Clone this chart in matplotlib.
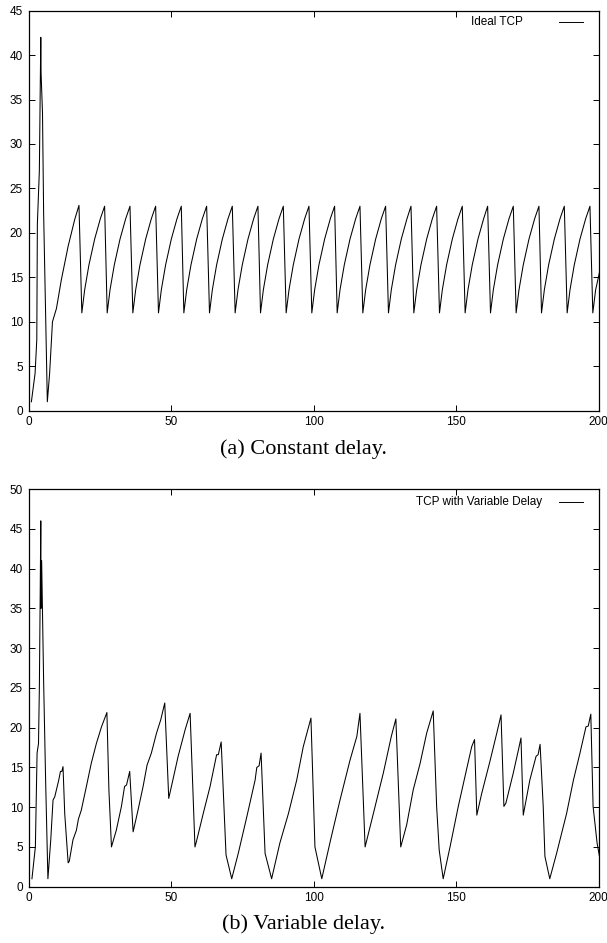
import matplotlib
matplotlib.use("Agg")
import matplotlib.pyplot as plt
from matplotlib.lines import Line2D

# (a) constant delay: cwnd vs time
ideal_t = [
    1.0, 2.3, 2.9, 3.1, 3.8, 4.3, 4.4, 4.9, 5.3, 5.9, 6.6, 7.4, 8.4, 9.8, 11.5, 13.9, 16.2, 17.7,
    18.7, 19.7, 21.2, 23.2, 25.2, 26.7,
    27.6, 28.6, 30.1, 32.1, 34.1, 35.6,
    36.6, 37.6, 39.1, 41.1, 43.1, 44.6,
    45.6, 46.6, 48.1, 50.1, 52.1, 53.6,
    54.5, 55.5, 57.0, 59.0, 61.0, 62.5,
    63.5, 64.5, 66.0, 68.0, 70.0, 71.5,
    72.5, 73.5, 75.0, 77.0, 79.0, 80.5,
    81.4, 82.4, 83.9, 85.9, 87.9, 89.4,
    90.4, 91.4, 92.9, 94.9, 96.9, 98.4,
    99.4, 100.4, 101.9, 103.9, 105.9, 107.4,
    108.3, 109.3, 110.8, 112.8, 114.8, 116.3,
    117.3, 118.3, 119.8, 121.8, 123.8, 125.3,
    126.3, 127.3, 128.8, 130.8, 132.8, 134.2,
    135.2, 136.2, 137.7, 139.7, 141.7, 143.2,
    144.2, 145.2, 146.7, 148.7, 150.7, 152.2,
    153.2, 154.2, 155.7, 157.7, 159.7, 161.1,
    162.1, 163.1, 164.6, 166.6, 168.6, 170.1,
    171.1, 172.1, 173.6, 175.6, 177.6, 179.1,
    180.0, 181.0, 182.5, 184.5, 186.5, 188.0,
    189.0, 190.0, 191.5, 193.5, 195.5, 197.0,
    198.0, 199.0, 200.5,
]
ideal_cwnd = [
    1.0, 4.2, 8.0, 21.0, 27.0, 42.0, 38.0, 33.5, 22.2, 12.5, 1.0, 4.2, 10.0, 11.5, 14.7, 18.5, 21.5, 23.1,
    11.0, 13.6, 16.4, 19.3, 21.6, 23.0,
    11.0, 13.6, 16.4, 19.3, 21.6, 23.0,
    11.0, 13.6, 16.4, 19.3, 21.6, 23.0,
    11.0, 13.6, 16.4, 19.3, 21.6, 23.0,
    11.0, 13.6, 16.4, 19.3, 21.6, 23.0,
    11.0, 13.6, 16.4, 19.3, 21.6, 23.0,
    11.0, 13.6, 16.4, 19.3, 21.6, 23.0,
    11.0, 13.6, 16.4, 19.3, 21.6, 23.0,
    11.0, 13.6, 16.4, 19.3, 21.6, 23.0,
    11.0, 13.6, 16.4, 19.3, 21.6, 23.0,
    11.0, 13.6, 16.4, 19.3, 21.6, 23.0,
    11.0, 13.6, 16.4, 19.3, 21.6, 23.0,
    11.0, 13.6, 16.4, 19.3, 21.6, 23.0,
    11.0, 13.6, 16.4, 19.3, 21.6, 23.0,
    11.0, 13.6, 16.4, 19.3, 21.6, 23.0,
    11.0, 13.6, 16.4, 19.3, 21.6, 23.0,
    11.0, 13.6, 16.4, 19.3, 21.6, 23.0,
    11.0, 13.6, 16.4, 19.3, 21.6, 23.0,
    11.0, 13.6, 16.4, 19.3, 21.6, 23.0,
    11.0, 13.6, 16.4, 19.3, 21.6, 23.0,
    11.0, 13.6, 15.8,
]

# (b) variable delay
var_t = [
    1.2, 2.4, 3.0, 3.5, 3.8, 4.1, 4.3, 4.4, 4.6, 5.3, 6.0, 6.8,
    7.8, 8.6, 9.2, 9.8, 10.6, 11.2, 11.7, 12.1, 12.7, 13.9, 14.3,
    15.6, 16.8, 17.5, 18.5, 20.3, 22.0, 23.8, 25.6, 27.5, 28.2, 29.1,
    30.8, 32.6, 33.7, 34.4, 35.5, 36.7,
    38.4, 40.2, 41.6, 43.1, 44.9, 46.4, 47.8, 49.2,
    52.5, 55.0, 56.7, 58.4,
    59.0, 61.3, 63.7, 66.0, 66.6, 67.6, 69.3, 71.3,
    73.6, 76.6, 79.5, 80.1, 80.9, 81.6, 83.0, 85.3,
    88.2, 91.2, 94.1, 96.4, 99.1, 100.5, 102.9,
    106.0, 109.3, 112.8, 115.2, 116.3, 118.1,
    121.0, 124.5, 127.3, 128.9, 130.6,
    132.7, 135.0, 137.4, 139.7, 142.0, 143.2, 144.1, 145.5,
    147.9, 150.8, 153.8, 155.5, 156.5, 157.3,
    159.0, 162.0, 164.3, 165.8, 166.8,
    167.5, 170.1, 171.9, 172.8, 173.6,
    175.9, 178.1, 178.8, 179.5, 180.6, 181.2, 182.9,
    185.3, 188.8, 191.2, 193.5, 195.6, 196.4, 197.3, 198.1, 199.5, 200.5,
]
var_cwnd = [
    1.0, 5.0, 16.8, 18.0, 25.0, 37.0, 46.0, 35.0, 41.0, 25.8, 13.3, 1.0,
    5.9, 10.9, 11.3, 12.2, 13.4, 14.5, 14.5, 15.1, 9.2, 3.0, 3.2,
    5.9, 7.1, 8.5, 9.6, 12.6, 15.5, 18.0, 20.1, 21.9, 12.2, 5.0,
    7.1, 10.1, 12.6, 12.8, 14.5, 6.9,
    9.6, 12.6, 15.3, 16.8, 19.3, 21.0, 23.1, 11.1,
    16.4, 19.8, 21.8, 5.0,
    5.8, 9.2, 12.6, 16.6, 16.6, 18.2, 4.0, 1.0,
    4.2, 8.8, 13.4, 15.0, 15.2, 16.8, 4.2, 1.0,
    5.5, 9.2, 13.4, 17.6, 21.2, 5.0, 1.0,
    5.9, 10.9, 15.9, 18.9, 21.8, 5.0,
    9.2, 14.3, 18.9, 21.1, 5.0,
    7.8, 12.2, 15.5, 19.3, 22.1, 10.1, 4.6, 1.0,
    5.0, 10.1, 14.9, 17.6, 18.5, 9.0,
    11.7, 15.9, 19.3, 21.6, 10.1,
    10.5, 14.3, 17.2, 18.7, 9.0,
    13.4, 16.4, 16.6, 17.9, 10.1, 3.8, 1.0,
    4.2, 9.2, 13.4, 16.8, 20.1, 20.2, 21.7, 10.1, 5.5, 3.5,
]

x_ticks = [0, 50, 100, 150, 200]


def style_axes(ax, ymax):
    ax.set_xlim(0, 200)
    ax.set_ylim(0, ymax)
    ax.set_xticks(x_ticks)
    ax.set_yticks(range(0, ymax + 1, 5))
    ax.tick_params(direction="in", top=True, right=True, length=4, width=0.7,
                   labelsize=8.5, pad=4)
    for lab in ax.get_xticklabels() + ax.get_yticklabels():
        lab.set_family("Liberation Sans")
    for sp in ax.spines.values():
        sp.set_linewidth(0.9)


def key(ax, label, text_right, y):
    # gnuplot-style key: label text then a short line sample
    ax.text(text_right, y, label, transform=ax.transAxes, ha="right", va="center",
            fontsize=8.5, family="Liberation Sans")
    ax.add_line(Line2D([0.931, 0.973], [y, y], transform=ax.transAxes,
                       color="black", lw=0.7))


fig = plt.figure(figsize=(6.07, 9.43), dpi=100)

ax1 = fig.add_axes([0.047, 0.5645, 0.939, 0.4242])
ax1.plot(ideal_t, ideal_cwnd, color="black", lw=0.75)
style_axes(ax1, 45)
key(ax1, "Ideal TCP", 0.868, 0.972)

ax2 = fig.add_axes([0.047, 0.0597, 0.939, 0.4217])
ax2.plot(var_t, var_cwnd, color="black", lw=0.75)
style_axes(ax2, 50)
key(ax2, "TCP with Variable Delay", 0.901, 0.967)

fig.text(0.5, 1 - 449 / 943, "(a) Constant delay.", ha="center", va="center",
         fontsize=16, family="Liberation Serif")
fig.text(0.5, 1 - 924 / 943, "(b) Variable delay.", ha="center", va="center",
         fontsize=16, family="Liberation Serif")

fig.savefig("out.png", dpi=100)
plt.close(fig)
